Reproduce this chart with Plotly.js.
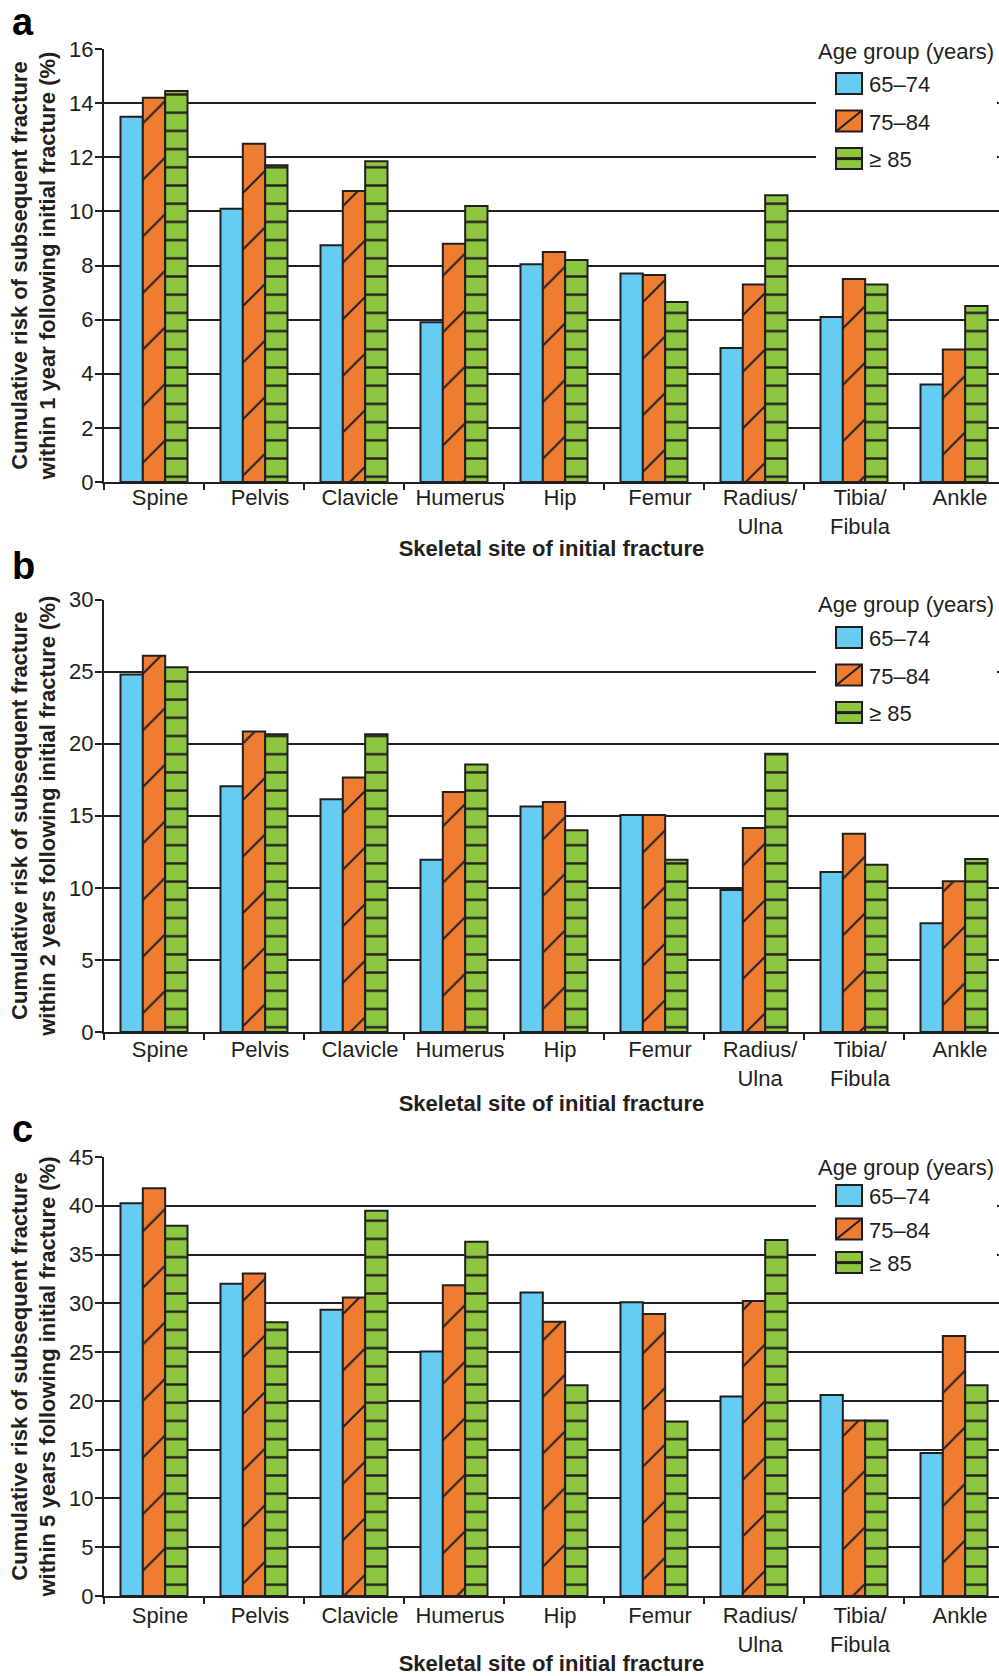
<!DOCTYPE html>
<html><head><meta charset="utf-8">
<script src="https://cdn.plot.ly/plotly-3.0.1.min.js"></script>
<style>html,body{margin:0;padding:0;background:#fff}</style>
</head><body>
<div id="chart" style="width:999px;height:1676px"></div>
<script>
// ---- data ----
const categories = ['Spine','Pelvis','Clavicle','Humerus','Hip','Femur','Radius/<br>Ulna','Tibia/<br>Fibula','Ankle'];
const ageGroups = ['65–74','75–84','≥ 85'];

// panel a: within 1 year
const oneYear_65_74 = [13.5, 10.1, 8.75, 5.9, 8.05, 7.7, 4.95, 6.1, 3.6];
const oneYear_75_84 = [14.2, 12.5, 10.75, 8.8, 8.5, 7.65, 7.3, 7.5, 4.9];
const oneYear_85up  = [14.45, 11.7, 11.85, 10.2, 8.2, 6.65, 10.6, 7.3, 6.5];
// panel b: within 2 years
const twoYear_65_74 = [24.8, 17.05, 16.15, 11.95, 15.65, 15.05, 9.85, 11.1, 7.55];
const twoYear_75_84 = [26.1, 20.85, 17.65, 16.65, 15.95, 15.05, 14.15, 13.75, 10.45];
const twoYear_85up  = [25.3, 20.65, 20.65, 18.55, 14.0, 11.95, 19.3, 11.6, 12.0];
// panel c: within 5 years
const fiveYear_65_74 = [40.25, 32.0, 29.35, 25.05, 31.1, 30.1, 20.45, 20.6, 14.65];
const fiveYear_75_84 = [41.8, 33.05, 30.6, 31.85, 28.1, 28.9, 30.25, 18.0, 26.65];
const fiveYear_85up  = [37.95, 28.05, 39.5, 36.3, 21.6, 17.9, 36.5, 18.0, 21.6];

const panelLetters = ['a','b','c'];
const yTitles = [
  'Cumulative risk of subsequent fracture<br>within 1 year following initial fracture (%)',
  'Cumulative risk of subsequent fracture<br>within 2 years following initial fracture (%)',
  'Cumulative risk of subsequent fracture<br>within 5 years following initial fracture (%)'
];
const xTitle = 'Skeletal site of initial fracture';
const legendTitle = 'Age group (years)';
const yMax = [16, 30, 45];
const yStep = [2, 5, 5];

// ---- styling ----
const INK = '#231f20';
const FONT = 'Liberation Sans, Arial, Helvetica, sans-serif';
const colors = ['#66ccf2', '#ee7d31', '#8dc63f'];
const patternShapes = ['', '/', '-'];
const patternSizes = [8, 40, 18.2];
const patternSolidity = [0.3, 0.05, 0.13];

const W = 999, H = 1676;
const fy = px => 1 - px / H;
const plotLeft = 104;
const panels = [
  {top: 49, bottom: 482, series: [oneYear_65_74, oneYear_75_84, oneYear_85up], legTop: 34, gap: 6,
   titleShift: -4, tickShift: -5, xTitleShift: -4},
  {top: 599.5, bottom: 1032, series: [twoYear_65_74, twoYear_75_84, twoYear_85up], legTop: 588, gap: 6,
   titleShift: -5, tickShift: -3, xTitleShift: 1},
  {top: 1157, bottom: 1596, series: [fiveYear_65_74, fiveYear_75_84, fiveYear_85up], legTop: 1146, gap: 2,
   titleShift: 0, tickShift: -1, xTitleShift: 0}
];
const letterCenters = [22, 566, 1129];

const traces = [];
const layout = {
  width: W, height: H,
  margin: {l: 0, r: 0, t: 0, b: 0},
  paper_bgcolor: '#fff', plot_bgcolor: '#fff',
  font: {family: FONT, size: 22, color: INK},
  bargap: 0.33, bargroupgap: 0,
  barmode: 'group',
  showlegend: true,
  annotations: []
};

panels.forEach((p, i) => {
  const sfx = i === 0 ? '' : String(i + 1);
  const legId = 'legend' + sfx;
  p.series.forEach((vals, k) => {
    const marker = {color: colors[k], line: {color: INK, width: 2}};
    if (patternShapes[k]) {
      marker.pattern = {shape: patternShapes[k], size: patternSizes[k], solidity: patternSolidity[k],
                        fgcolor: INK, bgcolor: colors[k], fgopacity: 1, fillmode: 'replace'};
    }
    traces.push({
      type: 'bar',
      x: categories, y: vals,
      name: ageGroups[k],
      xaxis: 'x' + sfx, yaxis: 'y' + sfx,
      legend: legId,
      legendgroup: 'g' + i + '_' + k,
      meta: k,
      marker: marker,
      hoverinfo: 'x+y+name'
    });
  });
  layout['xaxis' + sfx] = {
    domain: [plotLeft / W, 1],
    range: [-0.5, 8.45],
    anchor: 'y' + sfx,
    type: 'category',
    tickson: 'boundaries',
    ticks: 'outside', ticklen: 6, tickwidth: 2, tickcolor: INK,
    showline: true, linecolor: INK, linewidth: 2,
    showgrid: false, zeroline: false,
    tickfont: {family: FONT, size: 22, color: INK},
    automargin: false,
    title: {text: '<b>' + xTitle + '</b>', font: {family: FONT, size: 22, color: INK}, standoff: 2}
  };
  layout['yaxis' + sfx] = {
    domain: [fy(p.bottom), fy(p.top)],
    range: [0, yMax[i]],
    dtick: yStep[i], tick0: 0,
    anchor: 'x' + sfx,
    ticks: 'outside', ticklen: 7, tickwidth: 2, tickcolor: INK,
    showline: true, linecolor: INK, linewidth: 2,
    showgrid: true, gridcolor: INK, gridwidth: 2,
    zeroline: false,
    tickfont: {family: FONT, size: 22, color: INK},
    automargin: false,
    title: {text: '<b>' + yTitles[i] + '</b>', font: {family: FONT, size: 22, color: INK}, standoff: 4}
  };
  layout[legId] = {
    x: 816 / W, xanchor: 'left',
    y: fy(p.legTop), yanchor: 'top',
    bgcolor: '#fff', borderwidth: 0,
    font: {family: FONT, size: 22, color: INK},
    title: {text: legendTitle, font: {family: FONT, size: 22, color: INK}},
    tracegroupgap: p.gap,
    traceorder: 'grouped',
    itemclick: false, itemdoubleclick: false
  };
  layout.annotations.push({
    xref: 'paper', yref: 'paper',
    x: 10 / W, xanchor: 'left',
    y: fy(letterCenters[i]), yanchor: 'middle',
    text: '<b>' + panelLetters[i] + '</b>',
    showarrow: false,
    font: {family: FONT, size: 38, color: '#000'}
  });
});

function shift(el, dx, dy) {
  const t = el.getAttribute('transform') || '';
  el.setAttribute('transform', t + ' translate(' + dx + ',' + dy + ')');
}

Plotly.newPlot('chart', traces, layout, {staticPlot: true, displayModeBar: false}).then(gd => {
  // legends: enlarge swatches, indent items under the title
  const legendGroups = [];
  ['legend', 'legend2', 'legend3'].forEach(id => {
    const g = gd.querySelector('.infolayer > g.' + id);
    if (g) legendGroups.push(g);
  });
  legendGroups.forEach(g => {
    let panelIdx = 0;
    const first = g.querySelector('g.traces');
    if (first && first.__data__ && first.__data__[0]) {
      const lid = first.__data__[0].trace.legend || 'legend';
      panelIdx = lid === 'legend' ? 0 : parseInt(lid.replace('legend', ''), 10) - 1;
    }
    const title = g.querySelector('[class$="titletext"]');
    if (title) shift(title, 0, panels[panelIdx].titleShift);
    g.querySelectorAll('g.traces').forEach(item => {
      const d = item.__data__;
      const tr = d && d[0] && d[0].trace;
      const p = item.querySelector('.legendpoints path');
      if (!tr || !p) return;
      const k = tr.meta;
      p.setAttribute('d', 'M13,10.5H-13V-10.5H13Z');
      p.style.fill = colors[k];
      p.style.fillOpacity = 1;
      p.style.stroke = INK;
      p.style.strokeWidth = '2px';
      const extra = {1: 'M-13,10.5L13,-10.5', 2: 'M-13,0H13'}[k];
      if (extra) {
        const ln = document.createElementNS('http://www.w3.org/2000/svg', 'path');
        ln.setAttribute('d', extra);
        const t = p.getAttribute('transform');
        if (t) ln.setAttribute('transform', t);
        ln.style.stroke = INK;
        ln.style.strokeWidth = k === 2 ? '3px' : '2px';
        ln.style.fill = 'none';
        p.parentNode.appendChild(ln);
      }
      shift(item, 13, 0);
    });
  });
  // category labels sit a little right of the group centres in the original
  ['x', 'x2', 'x3'].forEach((ax, i) => {
    gd.querySelectorAll('g.' + ax + 'tick text').forEach(t => shift(t, 6, panels[i].tickShift));
    gd.querySelectorAll('g.g-' + ax + 'title text').forEach(t => shift(t, 0, panels[i].xTitleShift));
  });
  ['y', 'y2', 'y3'].forEach(ax => {
    gd.querySelectorAll('g.' + ax + 'tick text').forEach(t => shift(t, 3, 0));
  });
});
</script>
</body></html>
